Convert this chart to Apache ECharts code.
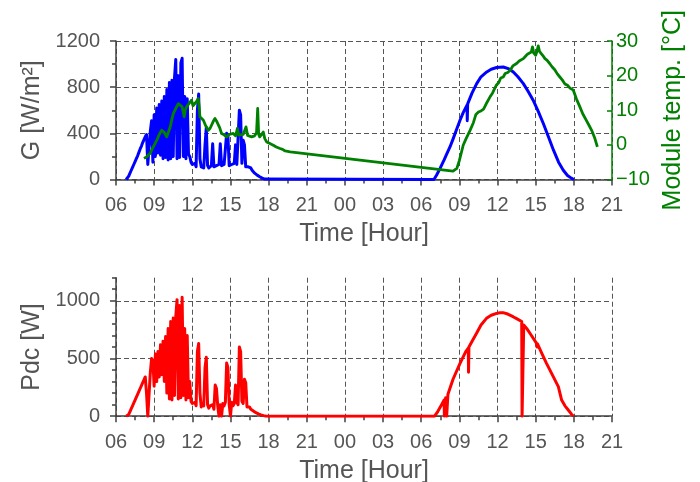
<!DOCTYPE html>
<html>
<head>
<meta charset="utf-8">
<script src="https://cdn.jsdelivr.net/npm/echarts@6/dist/echarts.min.js"></script>
<style>
  html, body { margin: 0; padding: 0; background: #fff; }
  #main { width: 700px; height: 482px; }
</style>
</head>
<body>
<div id="main"></div>
<script>
// day 1 is logged every 6 minutes, starting 06:48
var day1Start = 6.8;
var day1Step = 0.1;

// irradiance G [W/m2], day 1
var g1 = [
  0, 10, 30, 55, 80, 105, 130, 155, 180, 205,
  235, 265, 290, 320, 345, 370, 390, 130, 140, 420,
  510, 150, 560, 200, 620, 230, 650, 210, 680, 180,
  720, 190, 780, 170, 840, 180, 860, 200, 880, 1040,
  180, 900, 190, 1010, 1050, 200, 720, 180, 700, 220,
  200, 150, 130, 120, 140, 110, 600, 740, 180, 110,
  120, 100, 300, 450, 120, 100, 110, 120, 310, 110,
  100, 120, 110, 130, 310, 120, 110, 130, 120, 400,
  380, 120, 110, 130, 120, 140, 300, 130, 120, 600,
  560, 140, 340, 300, 110, 100, 110, 120, 100, 80,
  65, 55, 45, 38, 30, 24, 18, 12, 8, 4, 0
];

// Pdc [W], day 1
var p1 = [
  0, 0, 15, 40, 65, 90, 115, 140, 165, 190,
  215, 240, 265, 290, 315, 340, 200, 0, 0, 380,
  500, 480, 260, 540, 300, 560, 340, 620, 360, 650,
  300, 690, 200, 760, 150, 820, 140, 850, 180, 860,
  1010, 150, 960, 160, 1030, 180, 760, 140, 700, 160,
  300, 130, 110, 100, 120, 90, 560, 630, 200, 80,
  110, 90, 420, 510, 100, 70, 90, 80, 100, 60,
  270, 240, 90, 0, 100, 0, 110, 90, 120, 460,
  420, 100, 0, 120, 90, 110, 270, 120, 100, 600,
  560, 130, 110, 320, 290, 80, 70, 80, 60, 50,
  45, 35, 30, 25, 20, 15, 12, 8, 5, 2, 0
];

// night and day 2 (hour counted on from day 1 midnight)
var g2 = [
  [31.0, 0], [31.1, 15], [31.2, 37], [31.5, 100], [31.8, 170], [32.0, 220],
  [32.26, 282], [32.5, 350], [32.8, 440], [33.05, 513], [33.3, 580], [33.6, 645],
  [33.62, 510], [33.65, 655], [34.0, 750], [34.36, 831], [34.7, 890], [35.15, 932],
  [35.5, 955], [35.93, 970], [36.45, 975], [36.9, 958], [37.24, 932], [37.6, 890],
  [38.03, 831], [38.4, 765], [38.8, 687], [39.2, 590], [39.6, 485], [40.0, 370],
  [40.4, 254], [40.8, 150], [41.17, 80], [41.5, 35], [41.8, 12], [42.0, 0]
];

var p2 = [
  [31.05, 0], [31.3, 40], [31.6, 100], [31.8, 140], [31.82, 0], [31.9, 0],
  [31.92, 160], [32.0, 0], [32.05, 0], [32.1, 190], [32.5, 320], [33.05, 458],
  [33.5, 560], [33.7, 590], [33.72, 380], [33.75, 600], [34.0, 650], [34.35, 718],
  [34.7, 790], [35.13, 848], [35.5, 875], [35.92, 891], [36.2, 897], [36.44, 897],
  [36.8, 885], [37.22, 862], [37.5, 845], [37.9, 820], [37.93, 0], [38.03, 0],
  [38.06, 790], [38.29, 761], [38.6, 710], [39.07, 631], [39.1, 600], [39.15, 625],
  [39.5, 540], [39.85, 458], [40.3, 360], [40.78, 256], [41.04, 140], [41.3, 90],
  [41.56, 54], [41.8, 20], [41.96, 0]
];

// module temperature [°C]
var temp = [
  [8.2, -3.9], [8.4, -3.5], [8.67, -2.5], [8.9, -0.8], [9.2, 1.3], [9.4, 3.0],
  [9.59, 4.2], [9.8, 3.6], [9.98, 2.3], [10.1, 3.5], [10.25, 5.0], [10.4, 7.5],
  [10.5, 9.0], [10.7, 10.5], [10.9, 11.9], [11.05, 11.5], [11.2, 11.0], [11.36, 8.1],
  [11.45, 10.2], [11.55, 11.0], [11.75, 12.0], [11.94, 12.9], [12.05, 11.3], [12.2, 11.0],
  [12.35, 12.6], [12.47, 13.4], [12.55, 10.5], [12.6, 8.1], [12.75, 7.6], [12.87, 7.1],
  [13.05, 5.5], [13.26, 4.2], [13.4, 4.8], [13.5, 5.1], [13.65, 6.8], [13.78, 7.6],
  [13.9, 6.9], [14.0, 7.1], [14.15, 5.0], [14.3, 3.3], [14.5, 2.9], [14.7, 2.3],
  [14.9, 3.0], [15.05, 2.5], [15.22, 3.3], [15.4, 2.6], [15.55, 4.8], [15.65, 2.8],
  [15.8, 2.3], [16.0, 3.0], [16.22, 5.2], [16.35, 2.7], [16.5, 2.5], [16.66, 2.3],
  [16.9, 2.6], [17.05, 3.5], [17.14, 10.5], [17.22, 3.0], [17.3, 2.3], [17.45, 2.8],
  [17.58, 3.7], [17.7, 1.8], [17.85, 0.85], [18.1, 0.4], [18.37, -0.1], [18.6, -0.6],
  [18.9, -1.05], [19.1, -1.3], [19.3, -1.75], [19.7, -2.0], [32.5, -7.6], [32.8, -6.8],
  [33.0, -4.5], [33.3, -0.1], [33.5, 1.6], [33.84, 4.2], [34.1, 6.4], [34.3, 8.8],
  [34.5, 9.5], [34.7, 9.8], [34.9, 10.3], [35.1, 11.8], [35.4, 13.8], [35.6, 14.9],
  [35.75, 16.1], [35.9, 17.2], [36.1, 18.0], [36.25, 19.3], [36.45, 19.6], [36.6, 20.6],
  [36.8, 20.9], [36.98, 21.5], [37.2, 22.8], [37.35, 22.6], [37.5, 23.5], [37.7, 24.2],
  [37.85, 24.0], [38.03, 24.9], [38.2, 25.6], [38.35, 26.2], [38.5, 26.0], [38.65, 26.8],
  [38.75, 28.3], [38.85, 26.5], [39.0, 25.9], [39.1, 27.0], [39.2, 28.6], [39.3, 27.0],
  [39.45, 26.3], [39.6, 25.6], [39.73, 24.9], [39.9, 24.4], [40.1, 23.5], [40.3, 22.5],
  [40.5, 21.7], [40.7, 20.5], [40.9, 19.6], [41.1, 18.7], [41.3, 17.6], [41.5, 17.2],
  [41.7, 16.4], [41.96, 15.8], [42.2, 13.3], [42.45, 11.2], [42.7, 9.0], [42.95, 7.3],
  [43.2, 5.6], [43.4, 4.2], [43.65, 1.9], [43.85, -0.6]
];

// x ticks: 06 of day 1 to 21 of day 2
var hourMin = 6, hourMax = 45, hourStep = 3;
var pdcLabels = [0, 500, 1000];

function day1(vals) {
  var out = [];
  for (var i = 0; i < vals.length; i++) {
    out.push([+(day1Start + i * day1Step).toFixed(2), vals[i]]);
  }
  return out;
}

var font = 'Liberation Sans';
var axisGray = '#404040';
var textGray = '#555';
var green = '#008000';

function plain(v) { return String(v); }

function timeAxis(idx) {
  return {
    gridIndex: idx, type: 'value', min: hourMin, max: hourMax, interval: hourStep,
    axisLine: { show: true, onZero: false, lineStyle: { color: axisGray, width: 1.5 } },
    axisTick: { show: true, length: 6, lineStyle: { color: axisGray, width: 1.5 } },
    minorTick: { show: true, splitNumber: 2, length: 4, lineStyle: { color: axisGray, width: 1.5 } },
    axisLabel: {
      fontSize: 20, color: textGray, fontFamily: font, margin: 16,
      formatter: function (v) { var h = Math.round(v) % 24; return (h < 10 ? '0' : '') + h; }
    },
    splitLine: { show: true, lineStyle: { type: [5, 3], color: '#555', width: 1 } },
    name: 'Time [Hour]', nameLocation: 'middle', nameGap: 42,
    nameTextStyle: { fontSize: 25, color: textGray, fontFamily: font }
  };
}

var chart = echarts.init(document.getElementById('main'));
chart.setOption({
  animation: false,
  grid: [
    { left: 116, top: 41, width: 496, height: 138.5, outerBoundsMode: 'none' },
    { left: 116, top: 277.7, width: 496, height: 138.5, outerBoundsMode: 'none' }
  ],
  xAxis: [timeAxis(0), timeAxis(1)],
  yAxis: [
    {
      gridIndex: 0, type: 'value', position: 'left', min: 0, max: 1200, interval: 400,
      axisLine: { show: true, lineStyle: { color: axisGray, width: 1.5 } },
      axisTick: { show: true, length: 6, lineStyle: { color: axisGray, width: 1.5 } },
      minorTick: { show: true, splitNumber: 2, length: 4, lineStyle: { color: axisGray, width: 1.5 } },
      axisLabel: { fontSize: 20, color: textGray, fontFamily: font, margin: 16, formatter: plain },
      splitLine: { show: true, lineStyle: { type: [5, 3], color: '#555', width: 1 } },
      name: 'G [W/m²]', nameLocation: 'middle', nameRotate: 90, nameGap: 68,
      nameTextStyle: { fontSize: 25, color: textGray, fontFamily: font }
    },
    {
      gridIndex: 0, type: 'value', position: 'right', min: -10, max: 30, interval: 10,
      axisLine: { show: true, lineStyle: { color: green, width: 1.5 } },
      axisTick: { show: true, inside: true, length: 5, lineStyle: { color: green, width: 1.5 } },
      axisLabel: {
        fontSize: 20, color: green, fontFamily: font, margin: 4,
        formatter: function (v) { return String(v).replace('-', '\u2212'); }
      },
      splitLine: { show: false },
      name: 'Module temp. [°C]', nameLocation: 'middle', nameRotate: 90, nameGap: 46,
      nameTextStyle: { fontSize: 25, color: green, fontFamily: font }
    },
    {
      gridIndex: 1, type: 'value', position: 'left', min: 0, max: 1200, interval: 500,
      axisLine: { show: true, lineStyle: { color: axisGray, width: 1.5 } },
      axisTick: { show: true, length: 6, customValues: pdcLabels, lineStyle: { color: axisGray, width: 1.5 } },
      axisLabel: { fontSize: 20, color: textGray, fontFamily: font, margin: 16, customValues: pdcLabels, formatter: plain },
      splitLine: { show: true, lineStyle: { type: [5, 3], color: '#555', width: 1 } },
      name: 'Pdc [W]', nameLocation: 'middle', nameRotate: 90, nameGap: 68,
      nameTextStyle: { fontSize: 25, color: textGray, fontFamily: font }
    },
    {
      // minor ticks of the Pdc axis
      gridIndex: 1, type: 'value', position: 'left', min: 0, max: 1200, interval: 100,
      axisLine: { show: false },
      axisTick: { show: true, length: 4, lineStyle: { color: axisGray, width: 1.5 } },
      axisLabel: { show: false },
      splitLine: { show: false }
    }
  ],
  series: [
    {
      name: 'G', type: 'line', xAxisIndex: 0, yAxisIndex: 0,
      data: day1(g1).concat(g2), showSymbol: false, z: 2,
      lineStyle: { color: '#0000ff', width: 3, join: 'round' }
    },
    {
      name: 'Module temp.', type: 'line', xAxisIndex: 0, yAxisIndex: 1,
      data: temp, showSymbol: false, z: 3,
      lineStyle: { color: green, width: 2.8, join: 'round' }
    },
    {
      name: 'Pdc', type: 'line', xAxisIndex: 1, yAxisIndex: 2,
      data: day1(p1).concat(p2), showSymbol: false, z: 2,
      lineStyle: { color: '#ff0000', width: 3, join: 'round' }
    }
  ]
});
</script>
</body>
</html>
